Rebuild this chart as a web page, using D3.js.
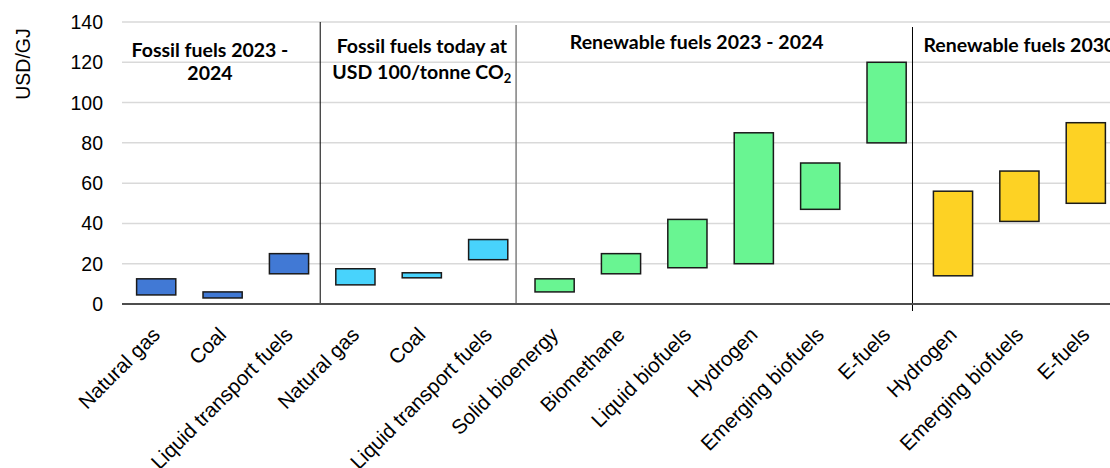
<!DOCTYPE html>
<html>
<head>
<meta charset="utf-8">
<script src="https://cdn.jsdelivr.net/npm/d3@7"></script>
<style>
  html, body { margin: 0; padding: 0; background: #fff; }
  svg { display: block; }
</style>
</head>
<body>
<svg id="chart" width="1110" height="468"></svg>
<script>
// ---- data ----
const categories = ["Natural gas", "Coal", "Liquid transport fuels",
  "Natural gas", "Coal", "Liquid transport fuels",
  "Solid bioenergy", "Biomethane", "Liquid biofuels", "Hydrogen", "Emerging biofuels", "E-fuels",
  "Hydrogen", "Emerging biofuels", "E-fuels"];
const lowValues  = [4.5, 3, 15,   9.5, 13, 22,   6, 15, 18, 20, 47, 80,   14, 41, 50];
const highValues = [12.5, 6, 25,  17.5, 15.5, 32, 12.5, 25, 42, 85, 70, 120, 56, 66, 90];
const groupOf    = [0, 0, 0, 1, 1, 1, 2, 2, 2, 2, 2, 2, 3, 3, 3];
const groupColors = ["#4179D5", "#48D3FC", "#69F592", "#FDD224"];
const yTicks = [0, 20, 40, 60, 80, 100, 120, 140];
const yTitle = "USD/GJ";
// group headers: lines, position in category units
const groupLabels = [
  { lines: ["Fossil fuels 2023 -", "2024"], at: 1.31 },
  { lines: ["Fossil fuels today at", "USD 100/tonne CO\u2082"], at: 4.5 },
  { lines: ["Renewable fuels 2023 - 2024"], at: 8.64 },
  { lines: ["Renewable fuels 2030"], at: 13.5 }
];
const separators = [2.97, 5.92, 11.89]; // in category units

// ---- layout ----
const svg = d3.select("#chart");
const left = 123, step = 66.4, n = categories.length;
const right = left + step * n;
const yTop = 22, yBottom = 304;

const x = d3.scaleBand().domain(d3.range(n)).range([left, right])
  .paddingInner(0.41).paddingOuter(0.205);
const xu = d3.scaleLinear().domain([0, n]).range([left, right]);
const y = d3.scaleLinear().domain([0, 140]).range([yBottom, yTop]);

// gridlines
svg.append("g").selectAll("line").data(yTicks.filter(d => d > 0)).join("line")
  .attr("x1", left - 1).attr("x2", 1110)
  .attr("y1", d => y(d)).attr("y2", d => y(d))
  .attr("stroke", "#d9d9d9").attr("stroke-width", 1.5);

// y tick labels
svg.append("g").selectAll("text").data(yTicks).join("text")
  .attr("x", 103).attr("y", d => y(d) + 7)
  .attr("text-anchor", "end")
  .attr("font-family", "'Liberation Sans', Arial, sans-serif")
  .attr("font-size", 19.5).attr("fill", "#000")
  .text(d => d);

// y title
svg.append("text")
  .attr("transform", "translate(29.5,64) rotate(-90)")
  .attr("text-anchor", "middle")
  .attr("font-family", "'Liberation Sans', Arial, sans-serif")
  .attr("font-size", 19.5).attr("fill", "#000")
  .text(yTitle);

// separators
const sepStyle = [
  { top: 22, bottom: 304, color: "#000", w: 1 },
  { top: 25, bottom: 304, color: "#7f7f7f", w: 1.5 },
  { top: 27, bottom: 311, color: "#000", w: 1 }
];
svg.append("g").selectAll("line").data(separators).join("line")
  .attr("x1", d => xu(d)).attr("x2", d => xu(d))
  .attr("y1", (d, i) => sepStyle[i].top).attr("y2", (d, i) => sepStyle[i].bottom)
  .attr("stroke", (d, i) => sepStyle[i].color)
  .attr("stroke-width", (d, i) => sepStyle[i].w);

// bars
svg.append("g").selectAll("rect").data(d3.range(n)).join("rect")
  .attr("x", i => x(i))
  .attr("width", x.bandwidth())
  .attr("y", i => y(highValues[i]))
  .attr("height", i => y(lowValues[i]) - y(highValues[i]))
  .attr("fill", i => groupColors[groupOf[i]])
  .attr("stroke", "#1a1a1a").attr("stroke-width", 1.5);

// x axis line
svg.append("line")
  .attr("x1", left - 1).attr("x2", 1110)
  .attr("y1", yBottom).attr("y2", yBottom)
  .attr("stroke", "#4d4d4d").attr("stroke-width", 2.2);

// category labels
svg.append("g").selectAll("text").data(d3.range(n)).join("text")
  .attr("transform", i => `translate(${x(i) + x.bandwidth() / 2 + 5},${yBottom + 32}) rotate(-45)`)
  .attr("text-anchor", "end")
  .attr("font-family", "'Liberation Sans', Arial, sans-serif")
  .attr("font-size", 20.5).attr("fill", "#000")
  .text(i => categories[i]);

// group headers
const baselines = [[56.7, 80], [52.6, 79.3], [49.3], [51.7]];
const gh = svg.append("g")
  .attr("font-family", "Lato, 'Open Sans', sans-serif")
  .attr("font-weight", "bold").attr("font-size", 19.5).attr("fill", "#000")
  .attr("text-anchor", "middle");
groupLabels.forEach((g, gi) => {
  g.lines.forEach((ln, li) => {
    const t = gh.append("text").attr("x", xu(g.at)).attr("y", baselines[gi][li]);
    if (ln.endsWith("\u2082")) {
      t.text(ln.slice(0, -1));
      t.append("tspan").attr("font-size", 13).attr("dy", 4).text("2");
    } else {
      t.text(ln);
    }
  });
});
</script>
</body>
</html>
